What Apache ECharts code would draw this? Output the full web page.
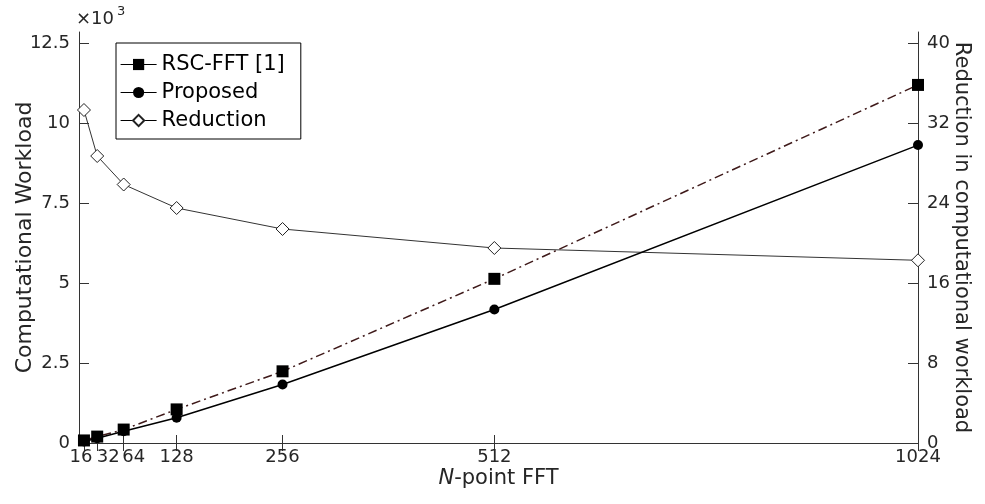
<!DOCTYPE html>
<html>
<head>
<meta charset="utf-8">
<script src="https://cdn.jsdelivr.net/npm/echarts@6/dist/echarts.min.js"></script>
<style>
html,body{margin:0;padding:0;background:#fff;}
#chart{width:985px;height:504px;}
</style>
</head>
<body>
<div id="chart"></div>
<script>
// N-point FFT sizes (x categories)
const nPoints = [16, 32, 64, 128, 256, 512, 1024];
// Computational workload (absolute, shown in units of 10^3)
const rscFFT   = [80, 200, 420, 1050, 2240, 5130, 11190];
const proposed = [50, 150, 370, 790, 1830, 4170, 9310];
// Reduction in computational workload (%)
const reduction = [33.3, 28.7, 25.85, 23.5, 21.4, 19.5, 18.27];
// tick labels
const xTicks = [16, 32, 64, 128, 256, 512, 1024];
const xLabelsMain = [16, 128, 256, 512, 1024];
const xLabels32 = [32];
const xLabels64 = [64];
const seriesNames = ['RSC-FFT [1]', 'Proposed', 'Reduction'];

const FONT = 'DejaVu Sans';
const AX = '#333';
const TXT = '#262626';
const X_MIN = 10, X_MAX = 1024;

const pair = (xs, ys) => xs.map((x, i) => [x, ys[i]]);

const labelBase = {fontSize: 18, color: TXT, fontFamily: FONT, margin: 5,
  showMinLabel: true, showMaxLabel: true, hideOverlap: false};

function labelAxis(values, rich, key) {
  return {
    type: 'value', position: 'bottom', min: X_MIN, max: X_MAX, offset: 0,
    axisLine: {show: false}, axisTick: {show: false}, splitLine: {show: false},
    axisLabel: Object.assign({}, labelBase, {
      customValues: values,
      formatter: v => '{' + key + '|' + v + '}',
      rich: rich
    })
  };
}

const chart = echarts.init(document.getElementById('chart'), null, {renderer: 'canvas'});
chart.setOption({
  animation: false,
  backgroundColor: '#fff',
  textStyle: {fontFamily: FONT},
  grid: {left: 79, right: 67, top: 32, bottom: 61, containLabel: false, outerBoundsMode: 'none'},
  graphic: [
    {type: 'text', left: 76, top: 10, style: {text: '×10', fontSize: 18, fontFamily: FONT, fill: TXT}},
    {type: 'text', left: 117, top: 5, style: {text: '3', fontSize: 13, fontFamily: FONT, fill: TXT}}
  ],
  legend: {
    orient: 'vertical',
    left: 116, top: 43,
    padding: [11, 16, 8, 4],
    itemGap: 7,
    itemWidth: 36,
    itemHeight: 14,
    borderColor: '#000',
    borderWidth: 1,
    backgroundColor: '#fff',
    textStyle: {fontSize: 21, fontFamily: FONT, color: '#000', lineHeight: 21},
    lineStyle: {type: 'solid', color: '#000', width: 1.2},
    data: seriesNames
  },
  xAxis: [
    {
      type: 'value', position: 'bottom', min: X_MIN, max: X_MAX,
      axisLine: {show: true, lineStyle: {color: AX, width: 1}},
      axisTick: {show: true, inside: true, length: 8, lineStyle: {color: AX}, customValues: xTicks},
      axisLabel: Object.assign({}, labelBase, {
        customValues: xLabelsMain,
        formatter: v => v === 16 ? '{a|16}' : String(v),
        rich: {a: {fontSize: 18, color: TXT, fontFamily: FONT, padding: [0, 6, 0, 0]}}
      }),
      splitLine: {show: false},
      name: '{i|N}-point FFT',
      nameLocation: 'middle',
      nameGap: 25,
      nameMoveOverlap: false,
      nameTextStyle: {fontSize: 21, color: TXT, fontFamily: FONT,
        rich: {i: {fontStyle: 'italic', fontSize: 21, color: TXT, fontFamily: FONT}}}
    },
    {
      type: 'value', position: 'top', min: X_MIN, max: X_MAX,
      axisLine: {show: true, lineStyle: {color: AX, width: 1}},
      axisTick: {show: true, inside: true, length: 8, lineStyle: {color: AX}, customValues: xTicks},
      axisLabel: {show: false},
      splitLine: {show: false}
    },
    labelAxis(xLabels32, {b: {fontSize: 18, color: TXT, fontFamily: FONT, padding: [0, 0, 0, 22]}}, 'b'),
    labelAxis(xLabels64, {c: {fontSize: 18, color: TXT, fontFamily: FONT, padding: [0, 0, 0, 20]}}, 'c')
  ],
  yAxis: [
    {
      type: 'value', position: 'left', min: 0, max: 12844, interval: 2500,
      axisLine: {show: true, lineStyle: {color: AX, width: 1}},
      axisTick: {show: true, inside: true, length: 10, lineStyle: {color: AX}},
      axisLabel: {fontSize: 18, color: TXT, fontFamily: FONT, margin: 9, showMaxLabel: false,
        formatter: v => String(v / 1000)},
      splitLine: {show: false},
      name: 'Computational Workload',
      nameLocation: 'middle',
      nameRotate: 90,
      nameGap: 43,
      nameMoveOverlap: false,
      nameTextStyle: {fontSize: 22, color: TXT, fontFamily: FONT}
    },
    {
      type: 'value', position: 'right', min: 0, max: 41.1, interval: 8,
      axisLine: {show: true, lineStyle: {color: AX, width: 1}},
      axisTick: {show: true, inside: true, length: 10, lineStyle: {color: AX}},
      axisLabel: {fontSize: 18, color: TXT, fontFamily: FONT, margin: 9, showMaxLabel: false},
      splitLine: {show: false},
      name: 'Reduction in computational workload',
      nameLocation: 'middle',
      nameRotate: -90,
      nameGap: 33,
      nameMoveOverlap: false,
      nameTextStyle: {fontSize: 21, color: TXT, fontFamily: FONT}
    }
  ],
  series: [
    {
      name: seriesNames[0], type: 'line', xAxisIndex: 0, yAxisIndex: 0,
      data: pair(nPoints, rscFFT),
      symbol: 'rect', symbolSize: 12,
      itemStyle: {color: '#000'},
      lineStyle: {color: '#3f1a1a', width: 1.5, type: [9, 4, 2, 4]},
      z: 3
    },
    {
      name: seriesNames[1], type: 'line', xAxisIndex: 0, yAxisIndex: 0,
      data: pair(nPoints, proposed),
      symbol: 'circle', symbolSize: 10,
      itemStyle: {color: '#000'},
      lineStyle: {color: '#000', width: 1.5},
      z: 4
    },
    {
      name: seriesNames[2], type: 'line', xAxisIndex: 0, yAxisIndex: 1,
      data: pair(nPoints, reduction),
      symbol: 'diamond', symbolSize: [13, 13],
      showAllSymbol: true,
      itemStyle: {color: '#fff', borderColor: '#222', borderWidth: 1},
      lineStyle: {color: '#333', width: 1},
      z: 2
    }
  ]
});
</script>
</body>
</html>
